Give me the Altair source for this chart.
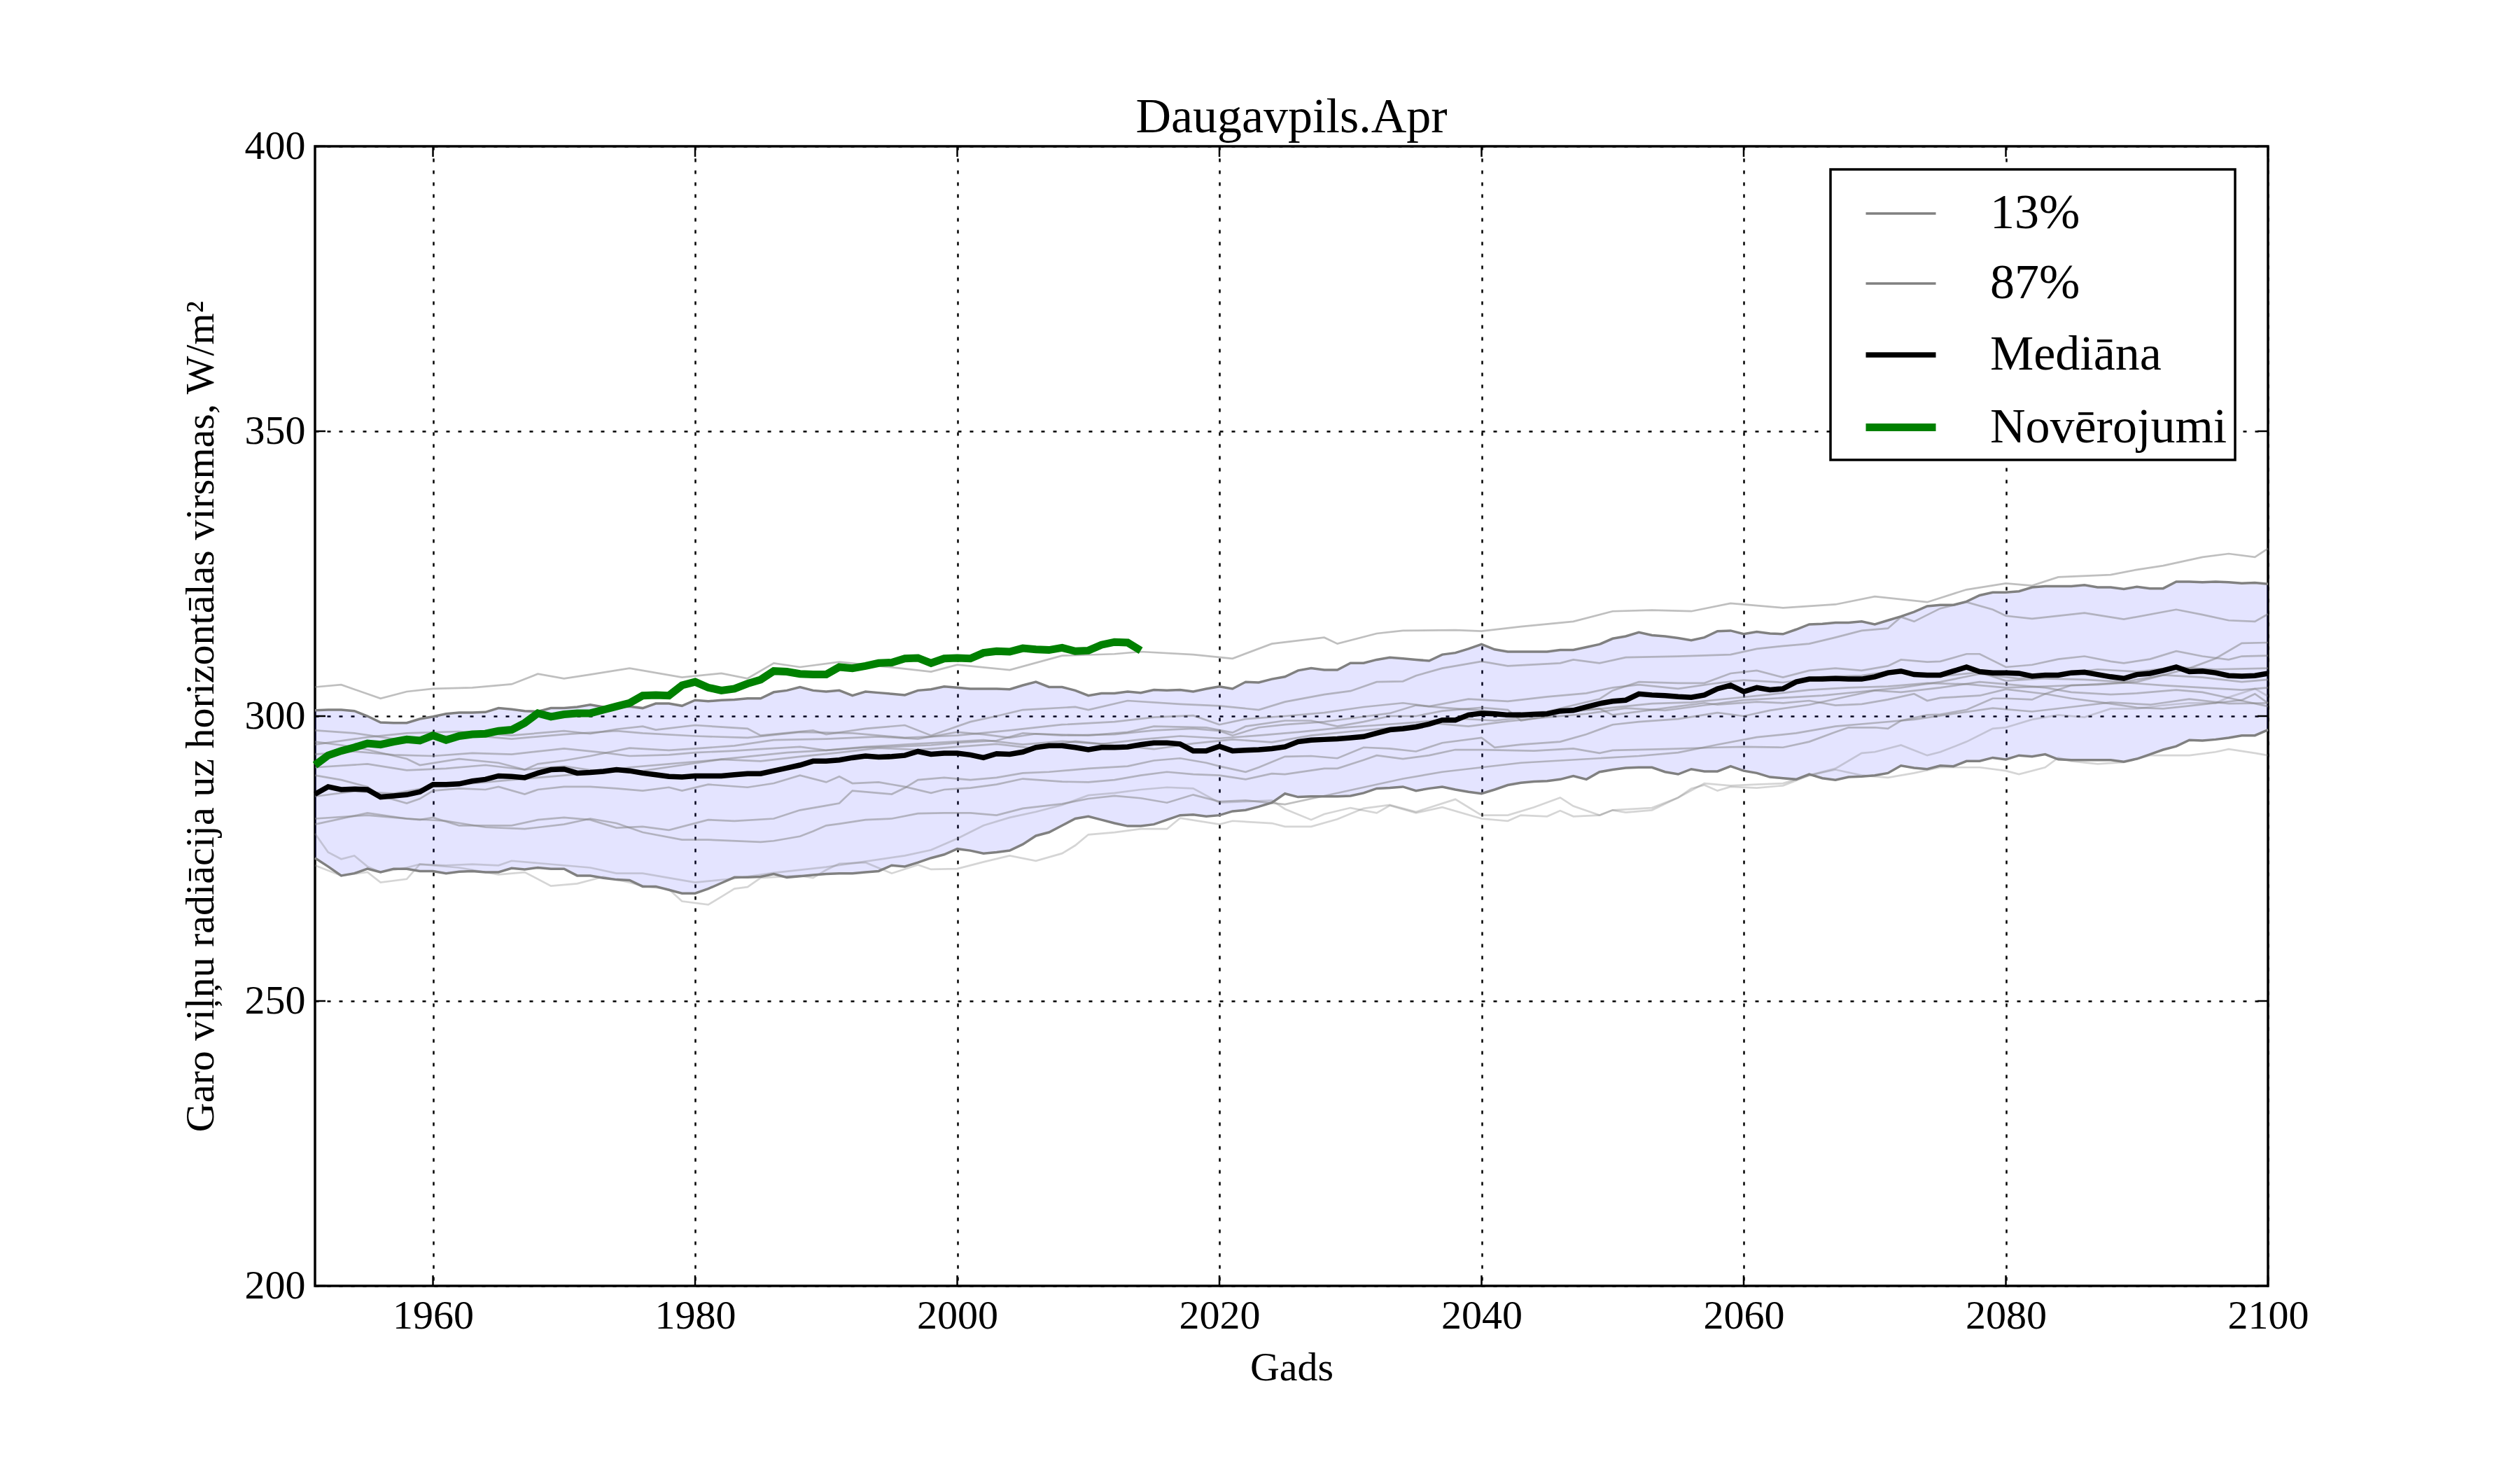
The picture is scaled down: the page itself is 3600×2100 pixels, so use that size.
import altair as alt
import pandas as pd

# ---------------- data ----------------
years = list(range(1951, 2101))

q13 = [275.1, 273.6, 272.0, 272.4, 273.2, 272.6, 273.2, 273.2, 272.8, 272.8,
       272.4, 272.7, 272.8, 272.6, 272.6, 273.3, 273.1, 273.4, 273.2, 273.2,
       272.0, 272.0, 271.6, 271.3, 271.2, 270.1, 270.1, 269.5, 268.9, 268.9,
       269.7, 270.7, 271.7, 271.7, 271.8, 272.3, 271.7, 271.9, 272.1, 272.3,
       272.4, 272.4, 272.6, 272.8, 273.8, 273.6, 274.3, 275.1, 275.7, 276.7,
       276.4, 275.9, 276.1, 276.4, 277.5, 279.0, 279.6, 280.8, 282.0, 282.4,
       281.8, 281.2, 280.7, 280.7, 281.0, 281.8, 282.6, 282.7, 282.4, 282.6,
       283.3, 283.5, 284.1, 284.8, 286.4, 285.8, 285.9, 285.9, 285.9, 286.0,
       286.5, 287.3, 287.4, 287.6, 286.9, 287.3, 287.6, 287.1, 286.7, 286.4,
       287.1, 287.9, 288.3, 288.5, 288.6, 288.9, 289.5, 288.9, 290.2, 290.6,
       290.9, 291.0, 291.0, 290.2, 289.8, 290.7, 290.3, 290.3, 291.2, 290.4,
       290.0, 289.3, 289.1, 288.9, 289.8, 289.1, 288.8, 289.3, 289.4, 289.6,
       290.0, 291.3, 290.9, 290.7, 291.3, 291.2, 292.1, 292.1, 292.7, 292.4,
       293.1, 292.9, 293.3, 292.4, 292.3, 292.3, 292.3, 292.3, 292.0, 292.5,
       293.3, 294.1, 294.7, 295.8, 295.7, 295.9, 296.2, 296.6, 296.6, 297.6]

q87 = [301.0, 301.1, 301.1, 300.9, 300.0, 298.9, 298.8, 298.8, 299.5, 299.9,
       300.4, 300.6, 300.6, 300.7, 301.4, 301.2, 300.9, 300.8, 301.4, 301.4,
       301.6, 302.0, 301.6, 301.6, 301.7, 301.4, 302.2, 302.2, 301.8, 302.8,
       302.6, 302.8, 302.9, 303.1, 303.1, 304.2, 304.5, 305.1, 304.5, 304.3,
       304.5, 303.6, 304.3, 304.1, 303.9, 303.7, 304.5, 304.7, 305.2, 305.0,
       304.8, 304.8, 304.8, 304.7, 305.4, 306.0, 305.1, 305.1, 304.5, 303.6,
       304.0, 304.0, 304.3, 304.1, 304.6, 304.5, 304.6, 304.3, 304.8, 305.2,
       304.8, 306.0, 305.9, 306.5, 306.9, 308.0, 308.4, 308.1, 308.1, 309.3,
       309.3, 309.9, 310.3, 310.1, 309.9, 309.7, 310.8, 311.1, 311.8, 312.6,
       311.7, 311.3, 311.3, 311.3, 311.3, 311.6, 311.6, 312.1, 312.6, 313.6,
       314.0, 314.7, 314.2, 314.0, 313.7, 313.3, 313.8, 314.9, 315.0, 314.4,
       314.8, 314.5, 314.4, 315.2, 316.1, 316.2, 316.4, 316.4, 316.6, 316.1,
       316.8, 317.5, 318.3, 319.3, 319.5, 319.5, 320.1, 321.2, 321.7, 321.7,
       321.9, 322.6, 322.8, 322.8, 322.8, 323.0, 322.6, 322.6, 322.3, 322.7,
       322.4, 322.4, 323.6, 323.6, 323.5, 323.6, 323.5, 323.3, 323.4, 323.2]

median = [286.3, 287.6, 287.1, 287.2, 287.1, 285.8, 286.0, 286.2, 286.7, 288.0,
          288.0, 288.1, 288.6, 288.9, 289.5, 289.4, 289.2, 290.0, 290.6, 290.7,
          290.0, 290.1, 290.3, 290.6, 290.4, 290.0, 289.7, 289.4, 289.3, 289.5,
          289.5, 289.5, 289.7, 289.9, 289.9, 290.4, 290.9, 291.4, 292.1, 292.1,
          292.3, 292.7, 293.0, 292.8, 292.9, 293.1, 293.8, 293.3, 293.5, 293.5,
          293.2, 292.7, 293.4, 293.3, 293.7, 294.5, 294.8, 294.8, 294.5, 294.1,
          294.5, 294.5, 294.6, 295.0, 295.3, 295.3, 295.1, 293.9, 293.9, 294.7,
          293.9, 294.0, 294.1, 294.3, 294.6, 295.5, 295.8, 295.9, 296.0, 296.2,
          296.4, 297.0, 297.6, 297.8, 298.1, 298.6, 299.3, 299.3, 300.2, 300.5,
          300.4, 300.2, 300.2, 300.3, 300.4, 300.9, 301.0, 301.6, 302.2, 302.6,
          302.8, 303.9, 303.7, 303.6, 303.4, 303.3, 303.7, 304.8, 305.4, 304.3,
          305.0, 304.6, 304.8, 306.0, 306.5, 306.5, 306.6, 306.5, 306.5, 306.9,
          307.6, 307.9, 307.3, 307.2, 307.2, 307.9, 308.6, 307.8, 307.6, 307.6,
          307.5, 307.0, 307.2, 307.2, 307.6, 307.7, 307.3, 306.9, 306.6, 307.3,
          307.5, 308.0, 308.6, 307.8, 307.9, 307.6, 307.1, 307.0, 307.1, 307.5]

obs_years = list(range(1951, 2015))
obs = [291.4, 293.1, 293.9, 294.5, 295.2, 295.0, 295.5, 295.9, 295.7, 296.6,
       295.8, 296.5, 296.8, 296.9, 297.4, 297.6, 298.8, 300.5, 299.9, 300.3,
       300.5, 300.5, 301.1, 301.7, 302.3, 303.6, 303.7, 303.6, 305.4, 306.0,
       305.0, 304.5, 304.8, 305.7, 306.4, 307.9, 307.8, 307.4, 307.3, 307.3,
       308.6, 308.4, 308.8, 309.3, 309.4, 310.1, 310.2, 309.3, 310.1, 310.2,
       310.1, 311.1, 311.4, 311.3, 311.9, 311.7, 311.6, 312.0, 311.4, 311.5,
       312.5, 313.0, 312.9, 311.5]

# individual ensemble members: [year, value]
m01 = [[1951, 305.1], [1953, 305.5], [1956, 303.1], [1958, 304.3], [1960, 304.8], [1963, 305.0],
       [1966, 305.6], [1968, 307.4], [1970, 306.6], [1972, 307.3], [1975, 308.4], [1979, 306.8],
       [1982, 307.5], [1984, 306.6], [1986, 309.3], [1988, 308.6], [1991, 309.5], [1994, 308.8],
       [1998, 307.8], [2000, 309.0], [2004, 308.1], [2008, 310.6], [2012, 310.9], [2014, 311.3],
       [2018, 310.8], [2021, 310.1], [2024, 312.7], [2028, 313.8], [2029, 312.7], [2032, 314.5],
       [2034, 315.0], [2038, 315.1], [2040, 314.9], [2043, 315.7], [2047, 316.6], [2050, 318.4],
       [2053, 318.6], [2056, 318.4], [2059, 319.8], [2063, 319.0], [2067, 319.6], [2070, 321.0],
       [2074, 320.0], [2077, 322.2], [2080, 323.3], [2082, 322.9], [2084, 324.4], [2088, 324.8],
       [2090, 325.7], [2092, 326.4], [2095, 327.9], [2097, 328.5], [2099, 327.9], [2100, 329.4]]
m02 = [[1951, 295.0], [1955, 296.3], [1958, 297.0], [1962, 297.3], [1966, 296.6], [1970, 297.4],
       [1972, 296.9], [1974, 297.7], [1976, 298.2], [1977, 297.6], [1980, 298.4], [1984, 297.8],
       [1985, 296.6], [1989, 297.5], [1990, 296.8], [1993, 297.8], [1996, 298.4], [1998, 296.6],
       [2001, 299.0], [2003, 300.0], [2005, 301.1], [2009, 301.6], [2010, 301.1], [2013, 302.7],
       [2017, 302.1], [2020, 301.8], [2023, 301.1], [2025, 302.5], [2028, 303.8], [2030, 304.4],
       [2032, 306.0], [2034, 306.1], [2035, 307.1], [2037, 308.4], [2040, 309.6], [2042, 308.8],
       [2046, 309.3], [2047, 309.9], [2049, 309.3], [2051, 310.3], [2055, 310.5], [2059, 310.8],
       [2061, 311.8], [2063, 312.3], [2065, 312.7], [2067, 313.8], [2069, 315.0], [2071, 315.4],
       [2072, 317.4], [2073, 316.6], [2075, 318.9], [2077, 320.0], [2079, 318.7], [2080, 317.6],
       [2082, 317.1], [2086, 318.1], [2089, 317.0], [2093, 318.7], [2095, 317.8], [2097, 316.8],
       [2099, 316.6], [2100, 317.9]]
m03 = [[1951, 295.5], [1953, 294.9], [1955, 294.1], [1958, 292.5], [1959, 291.4], [1962, 292.5],
       [1965, 291.8], [1967, 290.6], [1968, 291.6], [1970, 292.2], [1972, 293.0], [1975, 294.4],
       [1978, 294.0], [1980, 294.3], [1983, 294.8], [1986, 295.8], [1990, 296.0], [1994, 296.4],
       [1997, 296.0], [2000, 297.2], [2002, 296.8], [2004, 296.2], [2006, 296.9], [2010, 296.6],
       [2013, 297.2], [2015, 298.2], [2019, 298.0], [2021, 297.1], [2022, 298.2], [2025, 299.2],
       [2027, 299.2], [2029, 298.2], [2031, 299.0], [2033, 300.0], [2035, 300.0], [2037, 300.9],
       [2040, 301.5], [2042, 301.1], [2043, 299.2], [2045, 300.0], [2047, 301.1], [2049, 301.3],
       [2050, 300.2], [2053, 301.1], [2055, 301.7], [2057, 302.3], [2058, 302.0], [2061, 302.5],
       [2063, 302.3], [2065, 302.7], [2067, 301.9], [2069, 302.1], [2071, 302.9], [2073, 303.9],
       [2074, 302.7], [2075, 303.2], [2078, 303.6], [2080, 304.7], [2083, 303.9], [2085, 303.1],
       [2087, 302.5], [2090, 301.5], [2092, 301.3], [2094, 301.8], [2096, 302.3], [2098, 302.8],
       [2099, 303.9], [2100, 302.3]]
m04 = [[1951, 289.6], [1953, 288.8], [1955, 287.6], [1956, 286.0], [1958, 284.7], [1959, 285.5],
       [1960, 286.9], [1962, 287.3], [1964, 287.1], [1965, 287.6], [1967, 286.3], [1968, 287.1],
       [1970, 287.6], [1972, 287.6], [1974, 287.3], [1976, 286.9], [1978, 287.5], [1979, 286.9],
       [1981, 288.0], [1984, 287.5], [1986, 288.2], [1988, 289.6], [1990, 288.4], [1991, 289.4],
       [1992, 288.2], [1994, 288.4], [1996, 287.6], [1998, 286.5], [1999, 287.1], [2001, 287.4],
       [2003, 288.0], [2005, 289.0], [2008, 288.5], [2010, 288.4], [2012, 288.8], [2014, 289.6],
       [2016, 290.2], [2018, 289.8], [2020, 289.6], [2022, 288.9], [2024, 289.9], [2025, 289.8],
       [2028, 290.8], [2029, 290.8], [2031, 292.3], [2032, 293.1], [2034, 292.5], [2036, 293.1],
       [2038, 294.1], [2040, 294.1], [2044, 293.9], [2047, 294.3], [2049, 293.5], [2050, 294.0],
       [2054, 294.2], [2058, 294.5], [2060, 294.6], [2063, 294.5], [2065, 295.5], [2067, 297.2],
       [2068, 298.0], [2070, 298.0], [2071, 297.8], [2072, 299.2], [2074, 300.2], [2075, 300.3],
       [2077, 301.1], [2079, 303.1], [2080, 303.1], [2082, 302.9], [2083, 303.9], [2085, 305.4],
       [2087, 305.5], [2090, 306.0], [2092, 307.2], [2094, 308.4], [2096, 310.1], [2098, 312.8],
       [2100, 312.9]]
m05 = [[1951, 293.3], [1954, 293.8], [1957, 293.2], [1960, 293.0], [1963, 293.5], [1966, 293.3],
       [1970, 294.3], [1973, 293.6], [1975, 293.0], [1978, 293.2], [1980, 293.6], [1983, 293.9],
       [1985, 294.2], [1988, 294.6], [1990, 294.0], [1993, 294.5], [1995, 294.6], [1998, 294.9],
       [2000, 295.3], [2003, 295.7], [2005, 297.0], [2008, 296.6], [2012, 296.8], [2015, 297.5],
       [2018, 297.8], [2020, 297.4], [2021, 296.6], [2023, 298.0], [2025, 298.5], [2028, 299.0],
       [2030, 299.6], [2033, 300.5], [2035, 301.9], [2037, 301.5], [2040, 301.0], [2042, 300.4],
       [2045, 300.8], [2047, 301.9], [2049, 303.0], [2050, 304.5], [2052, 306.0], [2055, 305.8],
       [2057, 305.8], [2059, 307.5], [2061, 308.0], [2063, 306.8], [2065, 308.0], [2067, 308.4],
       [2069, 308.0], [2071, 308.8], [2072, 309.9], [2074, 309.5], [2075, 309.6], [2077, 310.9],
       [2078, 310.9], [2080, 308.6], [2082, 309.0], [2084, 310.0], [2086, 310.5], [2088, 309.6],
       [2089, 309.3], [2091, 310.0], [2093, 311.4], [2095, 310.5], [2097, 309.9], [2098, 310.5],
       [2100, 310.6]]
m06 = [[1951, 282.0], [1955, 282.6], [1959, 281.8], [1960, 282.2], [1962, 280.8], [1966, 280.8],
       [1968, 281.8], [1970, 282.2], [1972, 281.8], [1974, 280.4], [1976, 280.6], [1978, 280.0],
       [1981, 281.8], [1983, 281.6], [1986, 282.0], [1988, 283.5], [1990, 284.3], [1991, 284.7],
       [1992, 286.9], [1995, 286.3], [1996, 287.4], [1997, 288.8], [1999, 289.2], [2001, 288.8],
       [2003, 289.2], [2005, 290.0], [2007, 290.2], [2010, 290.8], [2013, 291.2], [2015, 292.2],
       [2017, 292.6], [2019, 291.8], [2020, 291.2], [2022, 290.2], [2023, 291.0], [2025, 292.9],
       [2027, 293.0], [2029, 292.6], [2031, 294.5], [2033, 294.3], [2035, 293.8], [2037, 295.3],
       [2040, 296.2], [2041, 294.5], [2043, 295.0], [2046, 295.5], [2048, 296.8], [2050, 298.5],
       [2052, 299.0], [2055, 299.5], [2058, 300.6], [2060, 300.0], [2062, 301.0], [2065, 302.0],
       [2068, 303.5], [2070, 304.5], [2072, 304.2], [2075, 305.0], [2078, 306.0], [2080, 305.6],
       [2083, 305.0], [2085, 304.2], [2088, 303.8], [2090, 304.0], [2093, 304.6], [2095, 304.2],
       [2097, 303.2], [2100, 301.7]]
m07 = [[1951, 281.0], [1955, 283.0], [1958, 282.0], [1961, 281.6], [1964, 280.5], [1967, 280.2],
       [1970, 281.0], [1972, 282.0], [1974, 281.2], [1976, 279.6], [1979, 278.3], [1981, 278.3],
       [1985, 277.9], [1986, 278.1], [1988, 278.9], [1989, 279.8], [1990, 280.8], [1991, 281.1],
       [1993, 281.8], [1995, 282.0], [1997, 282.9], [1999, 283.0], [2001, 283.0], [2003, 282.6],
       [2005, 283.8], [2008, 284.6], [2010, 285.5], [2012, 286.0], [2014, 285.6], [2016, 284.8],
       [2018, 286.2], [2020, 285.0], [2022, 285.2], [2025, 284.5], [2028, 286.0], [2031, 287.5],
       [2034, 289.0], [2037, 290.2], [2040, 291.0], [2043, 291.8], [2046, 292.2], [2049, 292.6],
       [2052, 293.0], [2055, 293.6], [2058, 295.0], [2061, 296.3], [2064, 297.0], [2067, 298.2],
       [2070, 298.8], [2073, 299.4], [2076, 300.4], [2079, 301.4], [2082, 300.8], [2085, 301.6],
       [2088, 302.4], [2091, 302.0], [2094, 303.0], [2097, 302.2], [2100, 302.3]]
m08 = [[1951, 273.8], [1953, 272.0], [1955, 272.6], [1956, 270.8], [1958, 271.4], [1959, 274.0],
       [1962, 273.4], [1965, 272.2], [1967, 272.6], [1969, 270.2], [1971, 270.6], [1973, 271.8],
       [1975, 270.8], [1976, 270.2], [1978, 269.6], [1979, 267.5], [1981, 266.9], [1982, 268.3],
       [1983, 269.7], [1984, 270.0], [1985, 271.6], [1988, 272.0], [1989, 271.6], [1990, 273.0],
       [1991, 274.1], [1993, 274.3], [1995, 272.4], [1997, 273.9], [1998, 273.1], [2000, 273.2],
       [2002, 274.4], [2004, 275.5], [2006, 274.6], [2008, 275.9], [2009, 277.3], [2010, 279.2],
       [2012, 279.6], [2014, 280.2], [2016, 280.2], [2017, 282.1], [2020, 281.0], [2021, 281.6],
       [2024, 281.2], [2025, 280.6], [2027, 280.6], [2029, 281.9], [2031, 283.8], [2033, 284.4],
       [2035, 283.2], [2038, 285.4], [2040, 282.6], [2042, 282.6], [2044, 284.0], [2046, 285.7],
       [2047, 284.2], [2049, 282.6], [2050, 283.5], [2051, 283.1], [2053, 283.5], [2055, 285.7],
       [2056, 287.3], [2057, 287.9], [2058, 286.9], [2059, 287.6], [2061, 287.4], [2063, 287.8],
       [2065, 289.6], [2067, 290.8], [2069, 293.5], [2070, 293.7], [2072, 294.9], [2074, 293.1],
       [2075, 293.7], [2077, 295.5], [2079, 297.8], [2080, 298.0], [2082, 299.4], [2084, 300.2],
       [2086, 299.8], [2088, 301.3], [2090, 301.3], [2092, 301.9], [2094, 302.3], [2096, 302.3],
       [2097, 303.3], [2099, 304.8], [2100, 303.5]]
m09 = [[1951, 279.4], [1952, 276.1], [1953, 274.9], [1954, 275.5], [1955, 273.6], [1956, 272.6],
       [1958, 273.4], [1959, 274.0], [1961, 273.8], [1963, 274.0], [1965, 273.8], [1966, 274.6],
       [1968, 274.2], [1970, 273.8], [1972, 273.4], [1974, 272.4], [1976, 272.4], [1978, 271.6],
       [1980, 270.8], [1983, 271.5], [1986, 272.5], [1990, 273.5], [1993, 274.5], [1996, 275.5],
       [1998, 276.5], [2000, 278.5], [2002, 280.8], [2004, 282.2], [2006, 283.2], [2008, 284.4],
       [2010, 286.1], [2012, 286.5], [2014, 287.1], [2016, 287.5], [2018, 287.3], [2020, 284.8],
       [2022, 285.0], [2024, 285.2], [2025, 283.7], [2027, 281.8], [2028, 282.8], [2030, 283.9],
       [2032, 283.0], [2033, 284.3], [2035, 283.0], [2037, 284.0], [2040, 282.0], [2042, 281.6],
       [2043, 282.6], [2045, 282.4], [2046, 283.4], [2047, 282.4], [2049, 282.6], [2050, 283.5],
       [2053, 283.9], [2055, 285.7], [2057, 288.2], [2059, 287.8], [2061, 288.0], [2063, 288.2],
       [2065, 289.6], [2067, 290.6], [2069, 289.6], [2071, 289.2], [2073, 290.0], [2075, 291.0],
       [2078, 291.0], [2080, 290.4], [2081, 289.8], [2083, 291.0], [2084, 292.7], [2085, 292.1],
       [2087, 291.6], [2089, 291.9], [2091, 293.1], [2094, 293.1], [2096, 293.7], [2097, 294.2],
       [2099, 293.5], [2100, 293.1]]
m10 = [[1951, 297.5], [1954, 297.0], [1957, 296.0], [1960, 296.4], [1963, 296.6], [1966, 296.0],
       [1970, 296.8], [1974, 297.4], [1976, 297.0], [1980, 296.5], [1984, 296.2], [1988, 297.2],
       [1992, 297.0], [1996, 296.2], [2000, 296.6], [2004, 297.5], [2008, 298.5], [2012, 299.0],
       [2015, 299.8], [2018, 300.1], [2020, 298.5], [2022, 299.5], [2025, 300.0], [2028, 300.6],
       [2031, 301.6], [2034, 302.3], [2036, 301.7], [2039, 303.0], [2042, 302.6], [2045, 303.4],
       [2048, 304.0], [2050, 305.0], [2052, 305.5], [2055, 304.8], [2058, 305.8], [2060, 306.3],
       [2063, 305.9], [2066, 306.9], [2069, 307.1], [2071, 307.8], [2073, 307.4], [2075, 307.0],
       [2078, 307.7], [2080, 306.2], [2083, 306.6], [2086, 306.4], [2089, 306.0], [2092, 307.2],
       [2095, 306.8], [2098, 306.0], [2100, 306.4]]
m11 = [[1951, 285.9], [1954, 286.8], [1957, 286.4], [1960, 287.6], [1963, 288.2], [1966, 288.8],
       [1969, 289.4], [1972, 290.0], [1975, 291.0], [1978, 291.6], [1981, 292.2], [1984, 292.9],
       [1987, 293.6], [1990, 294.0], [1993, 294.6], [1996, 295.0], [1999, 295.4], [2002, 295.8],
       [2005, 295.0], [2008, 295.6], [2011, 295.1], [2014, 295.9], [2017, 296.5], [2020, 296.1],
       [2023, 296.6], [2026, 297.2], [2029, 297.9], [2032, 298.4], [2035, 298.9], [2038, 299.6],
       [2041, 299.2], [2044, 300.0], [2047, 300.8], [2050, 301.5], [2053, 302.2], [2056, 302.4],
       [2059, 303.1], [2062, 303.8], [2065, 304.6], [2068, 305.0], [2071, 305.2], [2074, 305.8],
       [2077, 305.6], [2080, 305.0], [2083, 305.2], [2086, 305.5], [2089, 305.9], [2092, 305.4],
       [2095, 305.0], [2098, 304.6], [2100, 305.0]]
m12 = [[1951, 291.0], [1955, 291.6], [1958, 290.5], [1961, 290.8], [1964, 291.4], [1967, 290.6],
       [1970, 291.2], [1973, 290.2], [1976, 290.4], [1979, 291.4], [1982, 292.4], [1985, 292.1],
       [1988, 292.9], [1991, 293.6], [1994, 294.4], [1997, 294.1], [2000, 294.6], [2003, 295.1],
       [2006, 294.3], [2009, 295.6], [2012, 294.9], [2015, 294.2], [2018, 295.2], [2021, 295.9],
       [2024, 295.4], [2027, 296.6], [2030, 297.3], [2033, 297.9], [2036, 298.8], [2039, 298.2],
       [2042, 299.1], [2045, 299.8], [2048, 300.4], [2051, 301.4], [2054, 301.0], [2057, 301.9],
       [2060, 302.8], [2063, 303.2], [2066, 303.6], [2069, 304.3], [2072, 305.0], [2075, 306.0],
       [2078, 307.4], [2081, 306.6], [2084, 307.3], [2087, 308.2], [2090, 307.8], [2093, 308.6],
       [2096, 308.2], [2100, 308.4]]

members = [m01, m02, m03, m04, m05, m06, m07, m08, m09, m10, m11, m12]
member_opacity = [0.5, 0.5, 0.5, 0.5, 0.5, 0.5, 0.5, 0.33, 0.33, 0.5, 0.5, 0.5]

x_ticks = [1960, 1980, 2000, 2020, 2040, 2060, 2080, 2100]
y_ticks = [200, 250, 300, 350, 400]

series_names = ["13%", "87%", "Mediāna", "Novērojumi"]
series_colors = ["#808080", "#808080", "#000000", "#008000"]
series_widths = [3.5, 3.5, 7.5, 11]

# ---------------- frames ----------------
main_rows = []
for name, vals in (("13%", q13), ("87%", q87), ("Mediāna", median)):
    for yr, v in zip(years, vals):
        main_rows.append({"year": yr, "value": v, "series": name})
for yr, v in zip(obs_years, obs):
    main_rows.append({"year": yr, "value": v, "series": "Novērojumi"})
main_df = pd.DataFrame(main_rows)

band_df = pd.DataFrame({"year": years, "value": q13, "hi": q87})

mem_rows = []
for i, (m, op) in enumerate(zip(members, member_opacity)):
    for yr, v in m:
        mem_rows.append({"year": yr, "value": v, "member": f"m{i + 1:02d}", "op": op})
mem_df = pd.DataFrame(mem_rows)

xt_df = pd.DataFrame({"year": x_ticks})
yt_df = pd.DataFrame({"value": y_ticks})

W, H = 2790, 1628
FONT = "Liberation Serif"

def X():
    return alt.X("year:Q",
                 scale=alt.Scale(domain=[1951, 2100], nice=False, zero=False),
                 axis=alt.Axis(values=x_ticks, format="d", title="Gads",
                               labelPadding=14, titlePadding=16))

def Y(field="value"):
    return alt.Y(f"{field}:Q",
                 scale=alt.Scale(domain=[200, 400], nice=False, zero=False),
                 axis=alt.Axis(values=y_ticks, format="d",
                               title="Garo viļņu radiācija uz horizontālas virsmas, W/m²",
                               labelPadding=14, titlePadding=33))

band = alt.Chart(band_df).mark_area(color="#0000ff", opacity=0.105).encode(
    x=X(), y=Y(), y2="hi:Q")

ens = alt.Chart(mem_df).mark_line(color="#808080", strokeWidth=2.7).encode(
    x=X(), y=Y(), detail="member:N",
    opacity=alt.Opacity("op:Q", scale=None))

leg = alt.Legend(title=None, orient="none", legendX=2165, legendY=33, labelLimit=800)

main = alt.Chart(main_df).mark_line().encode(
    x=X(), y=Y(),
    color=alt.Color("series:N", sort=series_names,
                    scale=alt.Scale(type="ordinal", domain=series_names, range=series_colors),
                    legend=leg),
    strokeWidth=alt.StrokeWidth("series:N", sort=series_names,
                                scale=alt.Scale(type="ordinal", domain=series_names,
                                                range=series_widths),
                                legend=leg),
    order=alt.Order("year:Q"))

tick_style = dict(color="black", strokeWidth=2.5)
xt_bottom = alt.Chart(xt_df).mark_rule(**tick_style).encode(
    x=X(), y=alt.value(H - 15), y2=alt.value(H))
xt_top = alt.Chart(xt_df).mark_rule(**tick_style).encode(
    x=X(), y=alt.value(0), y2=alt.value(15))
yt_left = alt.Chart(yt_df).mark_rule(**tick_style).encode(
    y=Y(), x=alt.value(0), x2=alt.value(15))
yt_right = alt.Chart(yt_df).mark_rule(**tick_style).encode(
    y=Y(), x=alt.value(W - 15), x2=alt.value(W))

chart = alt.layer(band, ens, main, xt_bottom, xt_top, yt_left, yt_right).properties(
    width=W, height=H,
    title=alt.TitleParams("Daugavpils.Apr", font=FONT, fontSize=70, fontWeight="normal",
                          anchor="middle", offset=-24, color="black"),
    autosize=alt.AutoSizeParams(type="none"),
    padding={"left": 442, "top": 201, "right": 120, "bottom": 200},
).configure_view(
    stroke="black", strokeWidth=3.5
).configure_axis(
    labelFont=FONT, labelFontSize=58, labelColor="black",
    titleFont=FONT, titleFontSize=58, titleFontWeight="normal", titleColor="black",
    grid=True, gridColor="black", gridDash=[5, 12], gridWidth=2.5, gridOpacity=1,
    domain=False, ticks=False, tickSize=0, labelFlush=False, labelOverlap=False
).configure_legend(
    labelFont=FONT, labelFontSize=70, labelColor="black",
    symbolType="stroke", symbolSize=10000, symbolOffset=34, labelOffset=72,
    padding=11, rowPadding=13, strokeColor="black", strokeWidth=3.5,
    fillColor="white", cornerRadius=0
)

chart.save("out.html", embed_options={"renderer": "svg", "actions": False})
